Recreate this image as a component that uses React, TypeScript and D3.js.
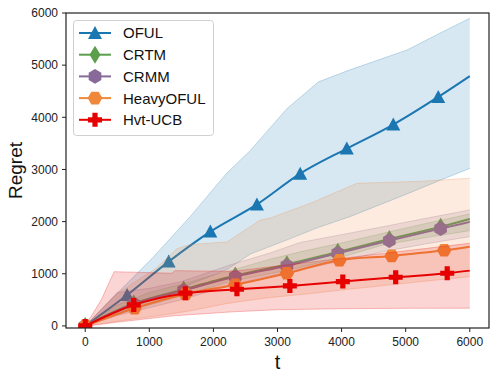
import React from "react";
import * as d3 from "d3";

// ---- data ----
const tOFUL = [0, 654, 1302, 1952, 2679, 3354, 4081, 4807, 5508, 6000];
const meanOFUL = [0, 594, 1233, 1808, 2330, 2920, 3400, 3860, 4390, 4790];
const tBandOFUL = [0, 600, 1070, 1640, 2210, 2580, 3150, 3640, 4130, 5020, 5530, 6000];
const hiOFUL = [0, 750, 1330, 2100, 2930, 3370, 4170, 4680, 4910, 5290, 5610, 5900];
const loOFUL = [0, 280, 510, 800, 1080, 1380, 1650, 1890, 2095, 2530, 2790, 3020];

const tCR = [0, 757, 1536, 2341, 3146, 3941, 4745, 5545, 6000];
const meanCRTM = [0, 430, 700, 965, 1180, 1420, 1665, 1900, 2050];
const meanCRMM = [0, 420, 680, 945, 1155, 1393, 1635, 1865, 1995];
const tBandCR = [0, 500, 1000, 1500, 2263, 2886, 3354, 4000, 4651, 5300, 6000];
const hiCRTM = [0, 400, 640, 800, 1060, 1280, 1420, 1590, 1777, 1960, 2147];
const loCRTM = [0, 230, 400, 580, 850, 1000, 1120, 1320, 1553, 1690, 1827];
const hiCRMM = [0, 640, 720, 850, 1170, 1400, 1600, 1750, 1903, 2060, 2223];
const loCRMM = [0, 200, 350, 500, 780, 960, 1073, 1250, 1424, 1570, 1712];

const tHeavy = [0, 770, 1565, 2341, 3146, 3966, 4782, 5601, 6000];
const meanHeavy = [0, 339, 613, 790, 1010, 1260, 1342, 1450, 1520];
const tBandHeavy = [0, 500, 1100, 1430, 1640, 2210, 2730, 2890, 3510, 4240, 5170, 6000];
const hiHeavy = [0, 620, 1100, 1480, 1560, 1610, 2030, 2070, 2350, 2735, 2770, 2830];
const loHeavy = [0, 90, 190, 250, 290, 430, 520, 545, 620, 720, 840, 945];

const tHvt = [0, 757, 1562, 2367, 3193, 4019, 4844, 5648, 6000];
const meanHvt = [0, 402, 627, 703, 767, 850, 933, 1010, 1060];
const tBandHvt = [0, 250, 450, 1350, 1400, 2300, 3000, 4000, 5000, 6000];
const hiHvt = [0, 500, 1040, 1010, 1060, 1045, 1150, 1295, 1440, 1585];
const loHvt = [0, 30, 65, 190, 195, 270, 310, 330, 338, 340];

const xTicks = [0, 1000, 2000, 3000, 4000, 5000, 6000];
const yTicks = [0, 1000, 2000, 3000, 4000, 5000, 6000];

const W = 498;
const H = 379;
const left = 66, right = 489, top = 13, bottom = 328;
const font = "'Liberation Sans', Arial, Helvetica, sans-serif";

const x = d3.scaleLinear().domain([-300, 6300]).range([left, right]);
const y = d3.scaleLinear().domain([-40, 6000]).range([bottom, top]);

type Marker = "tri" | "thin" | "hexv" | "hexf" | "plus";

function markerPath(m: Marker) {
  if (m === "tri") return "M0,-7L7,6L-7,6Z";
  if (m === "thin") return "M0,-9L5.5,0L0,9L-5.5,0Z";
  if (m === "plus") return "M-2.6,-7H2.6V-2.6H7V2.6H2.6V7H-2.6V2.6H-7V-2.6H-2.6Z";
  const r = 7.3;
  const off = m === "hexv" ? -Math.PI / 2 : 0;
  const pts = d3.range(6).map(i => {
    const a = off + (i * Math.PI) / 3;
    return [r * Math.cos(a), r * Math.sin(a)];
  });
  return "M" + pts.map(p => p.join(",")).join("L") + "Z";
}

const series = [
  { name: "OFUL", color: "#1a77b1", marker: "tri" as Marker, t: tOFUL, mean: meanOFUL, bt: tBandOFUL, lo: loOFUL, hi: hiOFUL },
  { name: "CRTM", color: "#5b9e4b", marker: "thin" as Marker, t: tCR, mean: meanCRTM, bt: tBandCR, lo: loCRTM, hi: hiCRTM },
  { name: "CRMM", color: "#87699a", marker: "hexv" as Marker, t: tCR, mean: meanCRMM, bt: tBandCR, lo: loCRMM, hi: hiCRMM },
  { name: "HeavyOFUL", color: "#f0883a", marker: "hexf" as Marker, t: tHeavy, mean: meanHeavy, bt: tBandHeavy, lo: loHeavy, hi: hiHeavy },
  { name: "Hvt-UCB", color: "#e60000", marker: "plus" as Marker, t: tHvt, mean: meanHvt, bt: tBandHvt, lo: loHvt, hi: hiHvt },
];

const line = d3.line<[number, number]>().x(d => x(d[0])).y(d => y(d[1])).curve(d3.curveMonotoneX);
const area = d3
  .area<[number, number, number]>()
  .x(d => x(d[0]))
  .y0(d => y(d[1]))
  .y1(d => y(d[2]));
const edge = d3.line<[number, number]>().x(d => x(d[0])).y(d => y(d[1]));

export default function App() {
  return (
    <svg width={W} height={H} style={{ position: "absolute", left: 0, top: 0, background: "#fff" }} fontFamily={font}>
      <defs>
        <clipPath id="plot">
          <rect x={left} y={top} width={right - left} height={bottom - top} />
        </clipPath>
      </defs>
      <g clipPath="url(#plot)">
        {series.map(s => {
          const band = s.bt.map((t, i) => [t, s.lo[i], s.hi[i]] as [number, number, number]);
          const pts = s.t.map((t, i) => [t, s.mean[i]] as [number, number]);
          return (
            <g key={s.name}>
              <path d={area(band) || ""} fill={s.color} fillOpacity={0.17} />
              <path d={edge(band.map(b => [b[0], b[1]] as [number, number])) || ""} fill="none" stroke={s.color} strokeOpacity={0.25} strokeWidth={1} />
              <path d={edge(band.map(b => [b[0], b[2]] as [number, number])) || ""} fill="none" stroke={s.color} strokeOpacity={0.25} strokeWidth={1} />
              <path d={line(pts) || ""} fill="none" stroke={s.color} strokeWidth={2} />
              {pts.slice(0, -1).map((p, i) => (
                <path key={i} d={markerPath(s.marker)} transform={`translate(${x(p[0])},${y(p[1])})`} fill={s.color} />
              ))}
            </g>
          );
        })}
      </g>
      <rect x={left} y={top} width={right - left} height={bottom - top} fill="none" stroke="#222" strokeWidth={1.2} />
      {xTicks.map(t => (
        <g key={"x" + t} transform={`translate(${x(t)},${bottom})`}>
          <line y2={4} stroke="#222" strokeWidth={1} />
          <text y={18} textAnchor="middle" fontSize={12} fill="#222">{t}</text>
        </g>
      ))}
      {yTicks.map(t => (
        <g key={"y" + t} transform={`translate(${left},${y(t)})`}>
          <line x2={-4} stroke="#222" strokeWidth={1} />
          <text x={-8} dy="0.35em" textAnchor="end" fontSize={12} fill="#222">{t}</text>
        </g>
      ))}
      <text x={(left + right) / 2} y={369} textAnchor="middle" fontSize={20} fill="#111">t</text>
      <text transform={`translate(22,${(top + bottom) / 2}) rotate(-90)`} textAnchor="middle" fontSize={19} fill="#111">Regret</text>
      <g>
        <rect x={73.5} y={20.5} width={140} height={115} rx={3} fill="#fff" fillOpacity={0.85} stroke="#d0d0d0" />
        {series.map((s, i) => {
          const ly = 33 + i * 21.7;
          return (
            <g key={s.name}>
              <line x1={79} x2={111} y1={ly} y2={ly} stroke={s.color} strokeWidth={2} />
              <path d={markerPath(s.marker)} transform={`translate(95,${ly})`} fill={s.color} />
              <text x={123} y={ly} dy="0.36em" fontSize={15} fill="#111">{s.name}</text>
            </g>
          );
        })}
      </g>
    </svg>
  );
}
